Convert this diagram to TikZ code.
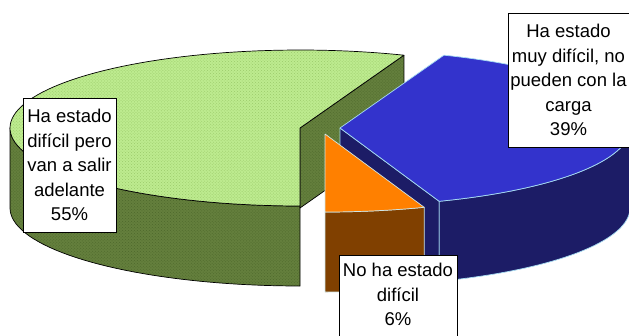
\documentclass[tikz,border=0pt]{standalone}
\usepackage{fontspec}
\setmainfont{Liberation Sans}
\usetikzlibrary{patterns}
\definecolor{gtop}{HTML}{BDEB8F}
\definecolor{gtopp}{HTML}{9CCB6B}
\definecolor{gside}{HTML}{647F3D}
\definecolor{gsidep}{HTML}{4E692B}
\definecolor{btop}{HTML}{3333CC}
\definecolor{bside}{HTML}{1C1C66}
\definecolor{bline}{HTML}{A6DCF2}
\definecolor{otop}{HTML}{FF8000}
\definecolor{oside}{HTML}{804000}
\definecolor{oline}{HTML}{CFE6E6}
\begin{document}
\begin{tikzpicture}[x=1bp,y=-1bp,
  gtopf/.style={preaction={fill=gtop},pattern=crosshatch dots,pattern color=gtopp,draw=black,line width=0.7bp,line join=round},
  gsidef/.style={preaction={fill=gside},pattern=crosshatch dots,pattern color=gsidep,draw=black,line width=0.7bp,line join=round},
  btopf/.style={fill=btop,draw=bline,line width=0.7bp,line join=round},
  bsidef/.style={fill=bside,draw=bline,line width=0.7bp,line join=round},
  otopf/.style={fill=otop,draw=oline,line width=0.7bp,line join=round},
  osidef/.style={fill=oside,draw=oline,line width=0.7bp,line join=round},
  lbl/.style={draw=black,fill=white,line width=0.8bp,align=center,inner sep=0pt,font=\fontsize{18.5bp}{24.4bp}\selectfont}
]
\useasboundingbox (0,0) rectangle (629,335);
% green slice (55%)
\path[gsidef] plot[domain=90:180,samples=40] ({300+290*cos(\x)},{128+78*sin(\x)})
  -- plot[domain=180:90,samples=40] ({300+290*cos(\x)},{208+78*sin(\x)}) -- cycle;
\path[gsidef] (300,128) -- ({300+290*cos(291)},{128+78*sin(291)})
  -- ({300+290*cos(291)},{208+78*sin(291)}) -- (300,208) -- cycle;
\path[gtopf] (300,128) -- plot[domain=90:291,samples=90] ({300+290*cos(\x)},{128+78*sin(\x)}) -- cycle;
% blue slice (39%)
\path[bsidef] (340,128) -- ({340+290*cos(70)},{128+78*sin(70)})
  -- ({340+290*cos(70)},{208+78*sin(70)}) -- (340,208) -- cycle;
\path[bsidef] plot[domain=0:70,samples=40] ({340+290*cos(\x)},{128+78*sin(\x)})
  -- plot[domain=70:0,samples=40] ({340+290*cos(\x)},{208+78*sin(\x)}) -- cycle;
\path[btopf] (340,128) -- plot[domain=-69:70,samples=80] ({340+290*cos(\x)},{128+78*sin(\x)}) -- cycle;
% orange slice (6%)
\path[osidef] plot[domain=70:90,samples=20] ({325+290*cos(\x)},{134+78*sin(\x)})
  -- plot[domain=90:70,samples=20] ({325+290*cos(\x)},{214+78*sin(\x)}) -- cycle;
\path[otopf] (325,134) -- plot[domain=70:90,samples=20] ({325+290*cos(\x)},{134+78*sin(\x)}) -- cycle;
% labels
\node[lbl,minimum width=93bp,minimum height=134bp] (l1) at (69.5,165) {Ha estado\\difícil pero\\van a salir\\adelante\\55\%};
\node[lbl,minimum width=121bp,minimum height=134bp] (l2) at (568.5,80) {Ha estado\\muy difícil, no\\pueden con la\\carga\\39\%};
\node[lbl,minimum width=118bp,anchor=north,inner ysep=8bp] (l3) at (398,255) {No ha estado\\difícil\\6\%\\\mbox{}};
\end{tikzpicture}
\end{document}
